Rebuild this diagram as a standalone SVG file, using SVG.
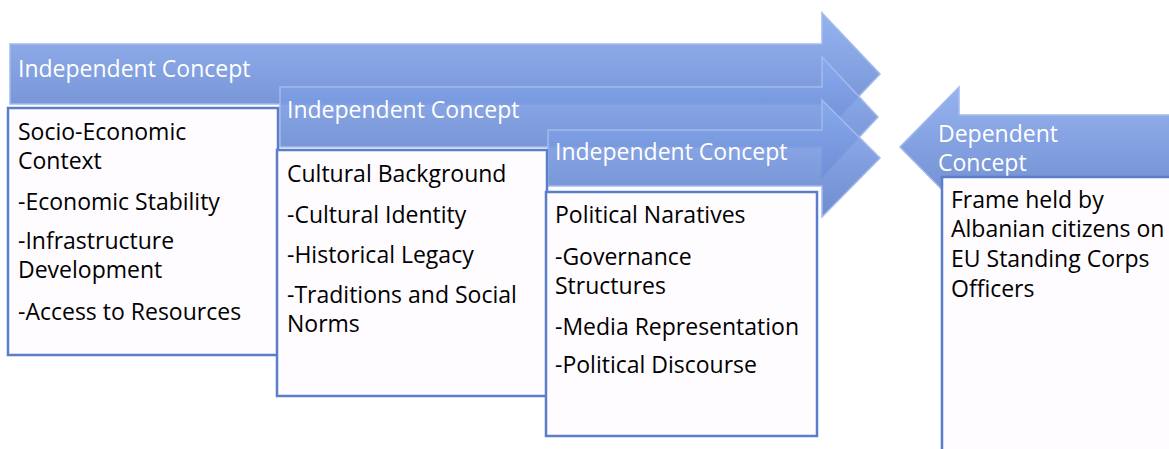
<svg xmlns="http://www.w3.org/2000/svg" width="1169" height="449" viewBox="0 0 1169 449">
<defs>
<linearGradient id="g" x1="0" y1="0" x2="0" y2="1">
<stop offset="0" stop-color="#8aabef"/>
<stop offset="0.5" stop-color="#7595dc"/>
<stop offset="1" stop-color="#6080cb"/>
</linearGradient>
<style>
.arr{fill:url(#g);fill-opacity:0.9;stroke:#a2baec;stroke-width:1.5;stroke-linejoin:miter}
.box{fill:#fffcff;stroke:#5a7ec8;stroke-width:2.5}
.hd{font-family:"Open Sans",Lato,sans-serif;font-size:23px;fill:#ffffff}
.tx{font-family:"Open Sans",Lato,sans-serif;font-size:23px;fill:#000000}
</style>
</defs>
<g id="connectors">
<path class="arr" d="M10,44 H822 V13 L880,74 L822,135 V104 H10 Z"/>
<path class="arr" d="M280,87 H822 V57 L878,117 L822,177 V147 H280 Z"/>
<path class="arr" d="M548,130 H822 V100 L880,158 L822,217 V186 H548 Z"/>
<path class="arr" d="M1175,115 H959 V87 L900,147 L959,207 V180 H1175 Z"/>
</g>
<g id="node1">
<text class="hd" x="18" y="77">Independent Concept</text>
<rect class="box" x="8" y="108" width="270" height="247"/>
<text class="tx" x="18" y="139.5">Socio-Economic<tspan x="18" y="168.5">Context</tspan></text>
<text class="tx" x="18" y="210">-Economic Stability</text>
<text class="tx" x="18" y="249">-Infrastructure<tspan x="18" y="278">Development</tspan></text>
<text class="tx" x="18" y="320">-Access to Resources</text>
</g>
<g id="node2">
<text class="hd" x="287" y="118">Independent Concept</text>
<rect class="box" x="277" y="150" width="270" height="246"/>
<text class="tx" x="287" y="182">Cultural Background</text>
<text class="tx" x="287" y="223">-Cultural Identity</text>
<text class="tx" x="287" y="263">-Historical Legacy</text>
<text class="tx" x="287" y="303">-Traditions and Social<tspan x="287" y="332">Norms</tspan></text>
</g>
<g id="node3">
<text class="hd" x="555" y="160">Independent Concept</text>
<rect class="box" x="546" y="192" width="271" height="244"/>
<text class="tx" x="555" y="223">Political Naratives</text>
<text class="tx" x="555" y="264.5">-Governance<tspan x="555" y="293.5">Structures</tspan></text>
<text class="tx" x="555" y="335">-Media Representation</text>
<text class="tx" x="555" y="373">-Political Discourse</text>
</g>
<g id="node4">
<text class="hd" x="938" y="142">Dependent<tspan x="938" y="171">Concept</tspan></text>
<rect class="box" x="942" y="177" width="240" height="280"/>
<text class="tx" x="951" y="208">Frame held by<tspan x="951" y="237">Albanian citizens on</tspan><tspan x="951" y="267">EU Standing Corps</tspan><tspan x="951" y="297">Officers</tspan></text>
</g>
</svg>
